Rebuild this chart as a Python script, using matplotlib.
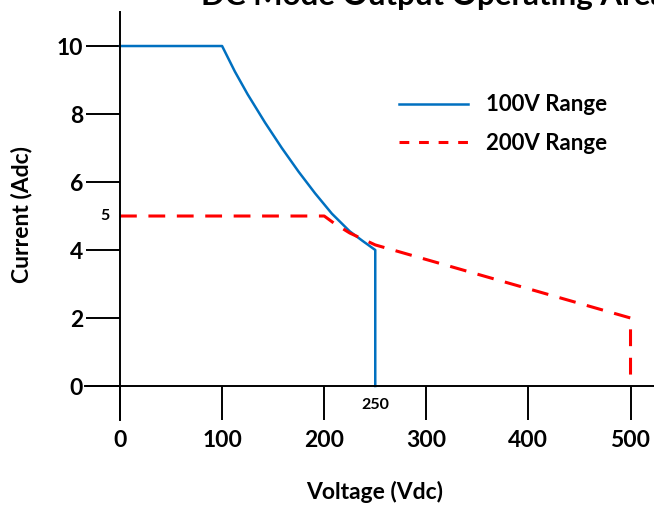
import matplotlib
matplotlib.use("Agg")
import matplotlib.pyplot as plt
from matplotlib.lines import Line2D

plt.rcParams['font.family'] = ['Lato', 'DejaVu Sans']
plt.rcParams['font.weight'] = 'bold'

# Data
v100 = [0, 100, 112.5, 125, 142, 158.5, 175, 191, 207.5, 225, 237.5, 250, 250]
i100 = [10, 10, 9.25, 8.58, 7.75, 7.0, 6.3, 5.67, 5.07, 4.55, 4.27, 4.0, 0]
v200 = [0, 200, 210, 225, 250, 500, 500]
i200 = [5, 5, 4.78, 4.5, 4.15, 2, 0]
xticks = [0, 100, 200, 300, 400, 500]
yticks = [0, 2, 4, 6, 8, 10]
series_labels = ['100V Range', '200V Range']
title = 'DC Mode Output Operating Area'

blue = '#0070C0'
red = '#FF0000'

fig = plt.figure(figsize=(6.54, 5.05), dpi=100)
ax = fig.add_axes([0.1304, 0.1683, 0.8696, 0.8079])
ax.set_xlim(-34, 523)
ax.set_ylim(-1, 11)

ax.plot(v100, i100, color=blue, lw=1.8, solid_joinstyle='round')
ax.plot(v200, i200, color=red, lw=2.2, dashes=(5.5, 3.8))

for s in ['top', 'right']:
    ax.spines[s].set_visible(False)
ax.spines['left'].set_position(('data', 0))
ax.spines['bottom'].set_position(('data', 0))
for s in ['left', 'bottom']:
    ax.spines[s].set_linewidth(1.4)
    ax.spines[s].set_color('black')

ax.set_xticks(xticks)
ax.set_yticks(yticks)
ax.tick_params(axis='both', direction='out', length=24.5, width=1.4, labelsize=16.5)
ax.tick_params(axis='x', pad=7)
ax.tick_params(axis='y', pad=2)
for lab in ax.get_xticklabels() + ax.get_yticklabels():
    lab.set_fontweight('bold')

ax.text(-10, 5, '5', ha='right', va='center', fontsize=11.5, fontweight='bold')
ax.text(250, -0.55, '250', ha='center', va='center', fontsize=11.5, fontweight='bold')

fig.text(22 / 654, 1 - 215 / 505, 'Current (Adc)', rotation=90, ha='center', va='center',
         fontsize=16.5, fontweight='bold')
fig.text(375 / 654, 1 - 492 / 505, 'Voltage (Vdc)', ha='center', va='center',
         fontsize=16.5, fontweight='bold')
fig.text(434 / 654, 1 - 5 / 505, title, ha='center', va='baseline',
         fontsize=22.5, fontweight='bold')

handles = [Line2D([], [], color=blue, lw=1.8),
           Line2D([], [], color=red, lw=2.2, dashes=(3.2, 3.2))]
ax.legend(handles, series_labels, loc='center left', bbox_to_anchor=(399 / 654, 1 - 124 / 505),
          bbox_transform=fig.transFigure, frameon=False, prop={'weight': 'bold', 'size': 16},
          handlelength=3.1, handletextpad=0.8, labelspacing=0.78, borderpad=0, borderaxespad=0)

fig.savefig('out.png', dpi=100)
